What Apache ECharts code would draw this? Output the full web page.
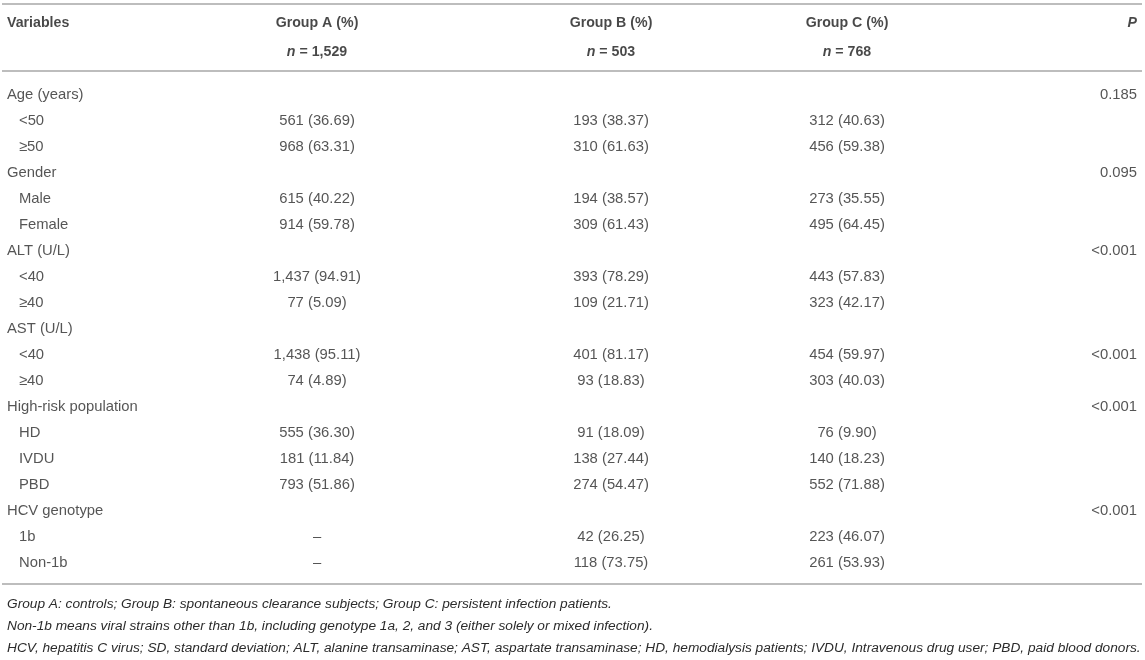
<!DOCTYPE html>
<html>
<head>
<meta charset="utf-8">
<script src="https://cdn.jsdelivr.net/npm/echarts@6/dist/echarts.min.js"></script>
<style>html,body{margin:0;padding:0;background:#fff;}#main{width:1145px;height:660px;}</style>
</head>
<body>
<div id="main"></div>
<script>
// ---- data ----
var headers = ['Variables', 'Group A (%)', 'Group B (%)', 'Group C (%)', 'P'];
var groupN = ['1,529', '503', '768'];
var rowLabels = ['Age (years)', '<50', '\u226550', 'Gender', 'Male', 'Female', 'ALT (U/L)', '<40', '\u226540',
  'AST (U/L)', '<40', '\u226540', 'High-risk population', 'HD', 'IVDU', 'PBD', 'HCV genotype', '1b', 'Non-1b'];
var rowLevel = [0, 1, 1, 0, 1, 1, 0, 1, 1, 0, 1, 1, 0, 1, 1, 1, 0, 1, 1];
var groupA = ['', '561 (36.69)', '968 (63.31)', '', '615 (40.22)', '914 (59.78)', '', '1,437 (94.91)', '77 (5.09)',
  '', '1,438 (95.11)', '74 (4.89)', '', '555 (36.30)', '181 (11.84)', '793 (51.86)', '', '\u2013', '\u2013'];
var groupB = ['', '193 (38.37)', '310 (61.63)', '', '194 (38.57)', '309 (61.43)', '', '393 (78.29)', '109 (21.71)',
  '', '401 (81.17)', '93 (18.83)', '', '91 (18.09)', '138 (27.44)', '274 (54.47)', '', '42 (26.25)', '118 (73.75)'];
var groupC = ['', '312 (40.63)', '456 (59.38)', '', '273 (35.55)', '495 (64.45)', '', '443 (57.83)', '323 (42.17)',
  '', '454 (59.97)', '303 (40.03)', '', '76 (9.90)', '140 (18.23)', '552 (71.88)', '', '223 (46.07)', '261 (53.93)'];
var pValues = ['0.185', '', '', '0.095', '', '', '<0.001', '', '', '', '<0.001', '', '<0.001', '', '', '', '<0.001', '', ''];
var footnotes = [
  'Group A: controls; Group B: spontaneous clearance subjects; Group C: persistent infection patients.',
  'Non-1b means viral strains other than 1b, including genotype 1a, 2, and 3 (either solely or mixed infection).',
  'HCV, hepatitis C virus; SD, standard deviation; ALT, alanine transaminase; AST, aspartate transaminase; HD, hemodialysis patients; IVDU, Intravenous drug user; PBD, paid blood donors.'
];

// ---- layout ----
var W = 1145, H = 660;
var FONT = '"Liberation Sans", Arial, Helvetica, sans-serif';
var TXT = '#2b2b2b';
var BODY_SIZE = 14.8, HEAD_SIZE = 14.2, NOTE_SIZE = 13.7;
var colX = { left: 7, indent: 19, A: 317, B: 611, C: 847, P: 1137 };
var rowH = 26, bodyTop = 82;
var headTop = 9, headRowH = 29;
var ruleColor = '#bdbdbd';

var chart = echarts.init(document.getElementById('main'), null, { renderer: 'canvas' });

var rowIdx = rowLabels.map(function (_, i) { return String(i); });

function cellSeries(name, values, xFor, align, gridIndex) {
  var data = [];
  values.forEach(function (v, i) {
    if (v === '') return;
    data.push({ value: [xFor(i), String(i)], txt: v });
  });
  return {
    type: 'scatter', name: name, xAxisIndex: gridIndex, yAxisIndex: gridIndex,
    symbolSize: 1, itemStyle: { color: 'rgba(0,0,0,0)' }, silent: true,
    data: data,
    label: {
      show: true, position: 'inside', align: align, verticalAlign: 'middle',
      color: TXT, fontFamily: FONT, fontSize: BODY_SIZE,
      formatter: function (p) { return p.data.txt; }
    }
  };
}

var headerN = ['', groupN[0], groupN[1], groupN[2], ''];
var headX = [colX.left, colX.A, colX.B, colX.C, colX.P];
var headAlign = ['left', 'center', 'center', 'center', 'right'];

var series = [];
headers.forEach(function (h, c) {
  series.push({
    type: 'scatter', xAxisIndex: 0, yAxisIndex: 0, symbolSize: 1, silent: true,
    itemStyle: { color: 'rgba(0,0,0,0)' },
    data: [{ value: [headX[c], '0'], txt: h }],
    label: {
      show: true, position: 'inside', align: headAlign[c], verticalAlign: 'middle',
      color: '#1a1a1a', fontFamily: FONT, fontSize: HEAD_SIZE, fontWeight: 'bold',
      fontStyle: c === 4 ? 'italic' : 'normal',
      formatter: function (p) { return p.data.txt; }
    }
  });
  if (headerN[c]) {
    series.push({
      type: 'scatter', xAxisIndex: 0, yAxisIndex: 0, symbolSize: 1, silent: true,
      itemStyle: { color: 'rgba(0,0,0,0)' },
      data: [{ value: [headX[c], '1'], txt: headerN[c] }],
      label: {
        show: true, position: 'inside', align: 'center', verticalAlign: 'middle',
        color: '#1a1a1a', fontFamily: FONT, fontSize: HEAD_SIZE, fontWeight: 'bold',
        formatter: function (p) { return '{i|n} = ' + p.data.txt; },
        rich: { i: { fontStyle: 'italic', fontWeight: 'bold', fontFamily: FONT, fontSize: HEAD_SIZE, color: '#1a1a1a' } }
      }
    });
  }
});

series.push(cellSeries('Variables', rowLabels, function (i) { return rowLevel[i] ? colX.indent : colX.left; }, 'left', 1));
series.push(cellSeries('Group A', groupA, function () { return colX.A; }, 'center', 1));
series.push(cellSeries('Group B', groupB, function () { return colX.B; }, 'center', 1));
series.push(cellSeries('Group C', groupC, function () { return colX.C; }, 'center', 1));
series.push(cellSeries('P', pValues, function () { return colX.P; }, 'right', 1));

var rules = [4, 71, 584];
var graphics = rules.map(function (y) {
  return { type: 'rect', shape: { x: 2, y: y - 1, width: W - 5, height: 2 }, style: { fill: ruleColor }, silent: true };
});
footnotes.forEach(function (t, i) {
  graphics.push({
    type: 'text', x: colX.left, y: 604 + i * 22, silent: true,
    style: { text: t, fill: TXT, font: 'italic ' + NOTE_SIZE + 'px ' + FONT, verticalAlign: 'middle' }
  });
});

chart.setOption({
  animation: false,
  backgroundColor: '#fff',
  grid: [
    { left: 0, right: 0, top: headTop, height: headRowH * 2 },
    { left: 0, right: 0, top: bodyTop, height: rowH * rowLabels.length }
  ],
  xAxis: [
    { gridIndex: 0, type: 'value', min: 0, max: W, show: false },
    { gridIndex: 1, type: 'value', min: 0, max: W, show: false }
  ],
  yAxis: [
    { gridIndex: 0, type: 'category', data: ['0', '1'], inverse: true, show: false },
    { gridIndex: 1, type: 'category', data: rowIdx, inverse: true, show: false }
  ],
  series: series,
  graphic: graphics
});
</script>
</body>
</html>
